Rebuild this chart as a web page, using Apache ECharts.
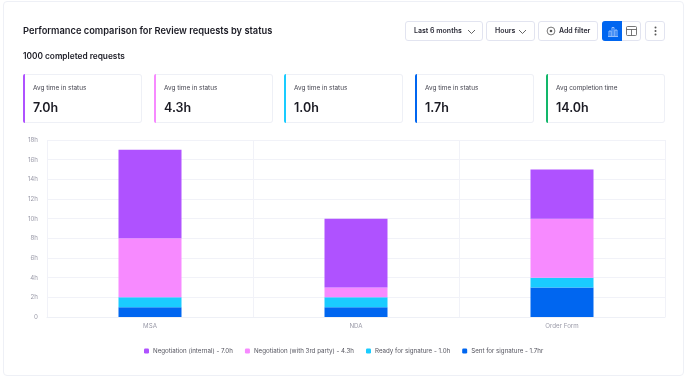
<!DOCTYPE html>
<html>
<head>
<meta charset="utf-8">
<script src="https://cdn.jsdelivr.net/npm/echarts@6/dist/echarts.min.js"></script>
<style>
    html, body { margin: 0; padding: 0; background: #fff; }
    body { width: 688px; height: 379px; position: relative; overflow: hidden; font-family: Inter, sans-serif; color: #1b1b24; }
    .panel { position: absolute; left: 3px; top: 1px; width: 679px; height: 373px; border: 1px solid #eef0f6; border-radius: 4px; }
    #chart { position: absolute; left: 0; top: 0; width: 688px; height: 379px; }
    .title { position: absolute; left: 23px; top: 24px; font-size: 9.3px; font-weight: 600; line-height: 14px; white-space: nowrap; }
    .sub { position: absolute; left: 23px; top: 50px; font-size: 8.3px; font-weight: 600; line-height: 12px; white-space: nowrap; }
    .btn { position: absolute; top: 21px; height: 18px; border: 1px solid #e2e4f0; border-radius: 3px; box-sizing: content-box; font-size: 7px; font-weight: 600; line-height: 18px; color: #2c2c38; white-space: nowrap; background: #fff; }
    .btn span { position: absolute; top: 0; }
    .btn svg { position: absolute; }
    .card { position: absolute; top: 74px; height: 47px; border: 1px solid #eef0f6; border-left: 0; border-radius: 3px; box-sizing: content-box; background: #fff; }
    .card i { position: absolute; left: 0; top: -1px; width: 2px; height: 49px; border-radius: 2px 0 0 2px; }
    .card .lab { position: absolute; left: 10px; top: 8px; font-size: 6.4px; color: #44444f; white-space: nowrap; line-height: 10px; }
    .card .val { position: absolute; left: 10px; top: 24px; font-size: 12.5px; font-weight: 600; white-space: nowrap; line-height: 17px; }
</style>
</head>
<body>
<div class="panel"></div>
<div id="chart"></div>
<div class="title">Performance comparison for Review requests by status</div>
<div class="sub">1000 completed requests</div>

<div class="btn" style="left:405px;width:76px"><span style="left:8px">Last 6 months</span>
    <svg style="left:61px;top:7px" width="9" height="6"><path d="M1 1l3.5 3.5L8 1" fill="none" stroke="#555" stroke-width=".9"/></svg></div>
<div class="btn" style="left:486px;width:47px"><span style="left:8px">Hours</span>
    <svg style="left:31px;top:7px" width="9" height="6"><path d="M1 1l3.5 3.5L8 1" fill="none" stroke="#555" stroke-width=".9"/></svg></div>
<div class="btn" style="left:538px;width:58px"><span style="left:20px">Add filter</span>
    <svg style="left:7px;top:4px" width="10" height="10"><circle cx="5" cy="5" r="3.9" fill="none" stroke="#555" stroke-width=".8"/><circle cx="5" cy="5" r="1.3" fill="#555"/></svg></div>
<div class="btn" style="left:602px;width:37px"></div>
<div style="position:absolute;left:602px;top:21px;width:20px;height:20px;background:#0066f0;border-radius:3px 0 0 3px">
    <svg style="position:absolute;left:5px;top:5px" width="11" height="11"><path d="M2 10V5h2v5M5 10V1.500h2V10M8 10V4h2v6M1 10.500h10" fill="none" stroke="#b9d4ff" stroke-width=".8"/></svg></div>
<svg style="position:absolute;left:626px;top:26px" width="11" height="10"><rect x=".5" y=".5" width="10" height="9" rx="1" fill="none" stroke="#555" stroke-width=".8"/><path d="M.5 3.500h10M5.500 3.500v6" stroke="#555" stroke-width=".8"/></svg>
<div class="btn" style="left:645px;width:18px"><svg style="left:8px;top:4px" width="3" height="10"><circle cx="1.500" cy="1.500" r="1" fill="#555"/><circle cx="1.500" cy="5" r="1" fill="#555"/><circle cx="1.500" cy="8.500" r="1" fill="#555"/></svg></div>

<div id="cards"></div>

<script>
// 卡片数据
const cardLabels = ['Avg time in status', 'Avg time in status', 'Avg time in status', 'Avg time in status', 'Avg completion time'];
const cardValues = ['7.0h', '4.3h', '1.0h', '1.7h', '14.0h'];
const cardColors = ['#af52ff', '#f78aff', '#1accff', '#0066f0', '#12b76a'];
const cardLefts = [23, 154, 284, 415, 546];
const cardWidth = 118;

// 图表数据
const categories = ['MSA', 'NDA', 'Order Form'];
const sentForSignature = [1, 1, 3];
const readyForSignature = [1, 1, 1];
const negotiation3rdParty = [6, 1, 6];
const negotiationInternal = [9, 7, 5];
const legendLabels = {
    'Negotiation (internal)': '7.0h',
    'Negotiation (with 3rd party)': '4.3h',
    'Ready for signature': '1.0h',
    'Sent for signature': '1.7hr'
};

let cardHtml = '';
cardLabels.forEach((label, i) => {
    cardHtml += '<div class="card" style="left:' + cardLefts[i] + 'px;width:' + cardWidth + 'px">'
        + '<i style="background:' + cardColors[i] + '"></i>'
        + '<div class="lab">' + label + '</div>'
        + '<div class="val">' + cardValues[i] + '</div></div>';
});
document.getElementById('cards').innerHTML = cardHtml;

const echart = echarts.init(document.getElementById('chart'));

function barSeries(name, data, color) {
    return {
        name: name,
        type: 'bar',
        stack: 'total',
        barWidth: 63,
        itemStyle: { color: color },
        data: data
    };
}

echart.setOption({
    animation: false,
    textStyle: { fontFamily: 'Inter, sans-serif' },
    grid: { left: 47, right: 23, top: 140, bottom: 62 },
    legend: {
        bottom: 20,
        left: 139,
        icon: 'roundRect',
        itemWidth: 5,
        itemHeight: 5,
        itemGap: 12,
        data: Object.keys(legendLabels),
        formatter: name => name + ' - ' + legendLabels[name],
        textStyle: { fontSize: 6.2, color: '#55555f', padding: [0, 0, 0, -1] }
    },
    xAxis: {
        type: 'category',
        data: categories,
        axisLine: { lineStyle: { color: '#eef0f6' } },
        axisTick: { show: false },
        splitLine: { show: true, lineStyle: { color: '#f1f2f8' } },
        axisLabel: { fontSize: 6.2, color: '#9a9aa8', margin: 6 }
    },
    yAxis: {
        type: 'value',
        min: 0,
        max: 18,
        interval: 2,
        axisLine: { show: false },
        axisTick: { show: false },
        splitLine: { lineStyle: { color: '#f1f2f8' } },
        axisLabel: {
            fontSize: 6.2,
            color: '#9a9aa8',
            margin: 9,
            formatter: v => (v === 0 ? '0' : v + 'h')
        }
    },
    series: [
        barSeries('Sent for signature', sentForSignature, '#0066f0'),
        barSeries('Ready for signature', readyForSignature, '#1accff'),
        barSeries('Negotiation (with 3rd party)', negotiation3rdParty, '#f78aff'),
        barSeries('Negotiation (internal)', negotiationInternal, '#af52ff')
    ]
});
</script>
</body>
</html>
